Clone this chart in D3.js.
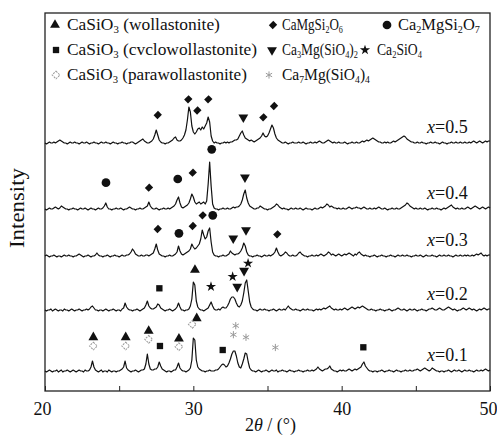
<!DOCTYPE html>
<html><head><meta charset="utf-8">
<script src="https://cdn.jsdelivr.net/npm/d3@7"></script>
<style>
body{margin:0;background:#fff}
svg{display:block}
text{font-family:"Liberation Serif","Times New Roman",serif;fill:#111}
</style>
</head><body>
<svg id="chart" width="497" height="436"></svg>
<script>
// XRD patterns of the CaO–MgO–SiO2 samples, 2θ = 20–50°, step 0.1°
const twoThetaStart = 20, twoThetaStep = 0.1;
const sampleNames = ["0.1", "0.2", "0.3", "0.4", "0.5"];
const stackOffsets = [15, 76, 130, 177, 243];

const intensityX01 = [
5,4,5,6,5,4,5,5,6,4, 5,6,4,5,5,6,5,4,5,6, 5,4,5,6,5,5,4,6,5,5, 6,9,15,9,6,5,4,5,6,4,
5,5,4,6,5,4,5,5,4,5, 5,6,7,9,15,8,6,5,4,5, 5,6,5,4,5,6,6,7,12,22, 12,7,6,6,7,7,9,14,10,7,
6,5,4,5,5,4,5,6,6,9, 13,8,6,5,5,4,5,6,8,16, 38,36,16,9,7,6,5,5,4,5, 5,6,5,5,5,6,6,7,9,11,
12,11,9,10,13,17,22,25,25,20, 13,9,8,12,17,23,22,14,8,6, 5,5,4,5,6,5,4,5,5,6, 5,4,5,6,5,5,6,4,5,5,
6,5,5,4,5,6,5,5,4,5, 5,6,5,5,4,5,5,6,5,5, 6,5,6,7,9,7,6,5,6,7, 7,8,10,7,6,5,5,4,5,6,
5,6,5,5,6,7,6,5,6,7, 6,7,8,9,12,14,10,8,6,5, 5,4,5,5,4,5,5,6,5,4, 5,5,6,5,5,4,5,6,5,5,
4,5,5,6,5,5,6,5,5,6, 6,7,6,5,6,7,8,7,6,5, 6,8,7,6,5,5,4,5,5,4, 5,5,6,5,4,5,6,5,5,6,
5,4,5,6,5,5,6,5,5,4, 5,6,5,5,6,5,6,7,6,5, 6];

const intensityX02 = [
5,4,5,5,6,4,5,6,5,4, 5,5,4,6,5,5,4,5,6,5, 4,5,5,6,5,4,5,5,6,5, 6,8,9,7,5,5,4,5,5,4,
5,6,5,4,5,5,6,5,4,5, 5,4,6,7,12,8,6,5,5,4, 5,5,6,5,4,5,6,7,10,14, 9,7,6,6,7,8,11,10,7,6,
5,4,5,5,6,5,4,5,6,8, 12,8,5,5,4,5,5,6,9,16, 33,30,14,8,6,5,5,4,5,6, 7,10,13,9,6,5,5,6,5,7,
8,7,7,9,12,16,18,18,16,12, 9,8,10,14,22,32,35,24,13,8, 6,5,5,4,5,6,5,5,6,5, 5,4,5,5,6,5,4,5,6,5,
5,6,5,7,9,7,6,5,5,6, 5,5,4,5,6,5,5,6,5,5, 5,4,5,6,5,6,5,6,7,6, 7,8,9,7,6,5,6,5,5,6,
5,6,7,6,5,6,7,8,7,6, 7,8,7,8,9,8,7,6,5,5, 6,5,5,4,5,5,6,5,5,4, 5,5,6,5,4,5,5,6,7,6,
5,5,6,5,4,5,6,5,5,6, 5,4,5,5,6,5,5,4,5,6, 6,7,6,5,5,6,7,6,5,5, 6,7,8,7,6,5,6,5,4,5,
5,6,7,6,5,6,7,6,5,6, 5,4,5,6,5,6,7,6,5,6, 6];

const intensityX03 = [
5,6,5,4,5,5,6,5,4,5, 5,4,5,6,5,5,6,5,5,4, 5,5,6,7,6,5,4,5,5,6, 5,4,5,5,6,8,6,5,5,4,
5,5,6,5,4,5,5,6,5,5, 4,5,6,5,5,6,6,7,9,12, 10,7,6,5,5,6,5,5,6,6, 5,6,7,8,12,17,11,7,6,5,
5,4,5,5,6,5,5,6,7,9, 15,10,7,6,7,8,9,10,12,17, 14,12,13,15,17,22,31,26,22,24, 30,33,19,9,6,5,5,4,5,5,
6,5,5,6,7,10,8,7,6,7, 7,8,10,13,18,15,9,6,5,5, 4,5,5,6,5,5,4,5,6,5, 5,6,5,6,7,9,13,9,6,5,
6,7,9,8,6,5,5,6,5,5, 6,8,9,7,6,5,5,4,5,5, 6,5,5,6,5,6,7,6,5,6, 7,9,8,6,7,6,5,6,7,6,
5,6,7,6,7,8,7,6,5,7, 6,8,9,7,6,5,6,5,5,4, 5,5,6,5,4,5,5,6,5,5, 4,5,5,6,5,5,4,5,6,5,
5,6,5,5,6,5,5,4,5,5, 6,5,5,6,5,4,5,6,5,5, 5,6,5,5,4,5,6,5,5,6, 5,5,6,5,5,4,5,6,5,5,
6,5,5,6,5,6,5,5,6,5, 6,7,6,7,8,6,5,6,5,6, 6];

const intensityX04 = [
5,4,5,6,5,5,6,7,6,5, 6,8,7,6,5,5,4,5,5,6, 5,5,4,5,6,5,5,6,5,4, 5,6,5,5,4,5,6,5,5,6,
8,11,7,5,5,4,5,5,6,5, 5,6,5,4,5,5,6,7,6,5, 5,4,5,5,6,5,5,6,7,8, 12,8,6,5,5,6,5,4,5,5,
6,5,5,6,5,6,7,8,10,14, 17,11,7,6,7,8,9,11,15,20, 17,12,10,11,12,10,11,12,10,13, 30,52,28,10,6,5,5,4,5,5,
6,5,5,6,5,5,6,7,6,7, 7,8,10,14,20,24,16,11,8,7, 6,5,5,6,6,8,7,6,5,5, 4,5,5,6,7,8,10,9,7,6,
5,6,5,5,4,5,6,5,5,6, 5,5,6,5,4,5,6,5,5,5, 4,5,6,5,5,6,7,6,7,8, 10,9,7,8,7,6,6,5,6,5,
5,6,5,5,6,7,6,5,6,6, 7,6,6,5,6,7,6,5,5,6, 5,5,6,5,6,7,6,5,5,6, 5,4,5,5,6,5,5,6,5,5,
6,7,8,9,11,10,8,7,6,5, 6,5,5,6,5,5,6,5,4,5, 5,6,5,5,6,5,5,4,5,6, 5,6,7,8,9,7,6,5,6,5,
5,6,5,5,6,7,6,5,6,7, 8,7,6,5,6,7,6,5,6,7, 6];

const intensityX05 = [
5,4,5,6,5,5,6,5,6,7, 8,7,6,5,5,4,5,6,5,5, 6,5,5,4,5,6,5,5,6,5, 4,5,5,6,5,5,4,5,6,5,
5,6,5,5,4,5,6,5,5,4, 5,5,6,5,5,4,5,5,6,6, 5,4,5,6,7,8,9,7,6,5, 5,6,7,9,13,18,13,8,6,5,
5,4,5,5,6,7,8,10,11,8, 7,7,8,10,13,18,28,41,36,22, 16,14,16,19,20,18,21,19,22,25, 31,26,12,7,5,6,5,5,4,5,
5,6,5,6,5,6,6,7,8,8, 9,12,15,17,13,10,9,8,7,8, 7,6,7,8,9,10,12,15,12,11, 12,15,19,23,20,14,10,8,7,6,
5,5,6,5,4,5,5,6,5,5, 5,6,5,5,6,5,4,5,5,6, 5,5,6,5,6,7,6,5,5,6, 7,8,7,6,5,6,5,5,6,5,
5,5,6,5,4,5,5,6,5,5, 6,5,5,6,7,6,7,8,7,8, 9,10,9,8,7,6,6,5,5,6, 5,6,5,5,6,7,6,7,8,9,
10,11,12,11,9,8,7,6,6,5, 5,6,5,5,6,5,5,4,5,5, 6,5,5,6,5,5,4,5,6,5, 5,4,5,5,6,5,5,6,5,5,
6,5,5,6,5,5,6,5,6,7, 6,5,6,7,6,5,6,7,6,7, 7];

const patterns = [intensityX01, intensityX02, intensityX03, intensityX04, intensityX05];

// Phase identification: [phase, 2θ, marker height above the pattern's offset]
const phaseMarksX01 = [
["wol",23.26,38.7],["para",23.26,30],["wol",25.44,38.7],["para",25.44,30],
["wol",26.99,45],["para",26.99,36.7],["cyc",27.75,30],["wol",29.03,37.3],["para",29.03,29.3],
["wol",30.23,57.7],["para",29.93,51.7],["cyc",31.98,26],["c7m",32.86,50.3],["c7m",32.7,41.3],
["c7m",33.55,38.7],["c7m",35.53,28.5],["cyc",41.46,28.7]];
const phaseMarksX02 = [
["cyc",27.71,26.7],["wol",30.11,45],["c2s",31.19,28.3],["c2s",32.65,38.3],["c3m",32.96,28.3],
["c3m",33.42,44.3],["c2s",33.69,51.7]];
const phaseMarksX03 = [
["diop",27.6,32],["aker",29.03,27.7],["diop",29.96,35],["diop",30.63,45.7],["aker",31.31,45.7],
["c3m",32.69,22.7],["c3m",33.55,31],["diop",35.66,26.7]];
const phaseMarksX04 = [
["aker",24.11,31.3],["diop",27.01,26.3],["aker",28.95,35],["diop",29.96,41.3],["aker",31.24,64.7],
["c3m",33.48,36.7]];
const phaseMarksX05 = [
["diop",27.6,33],["diop",29.66,48.7],["diop",30.27,37.5],["diop",31.01,48.7],["c3m",33.37,30.7],
["diop",34.72,30.7],["diop",35.44,42]];
const phaseMarks = [phaseMarksX01, phaseMarksX02, phaseMarksX03, phaseMarksX04, phaseMarksX05];

// Legend entries ("_n" = subscript)
const legendKeys = ["wol","diop","aker","cyc","c3m","c2s","para","c7m"];
const legendLabels = [
"CaSiO_3 (wollastonite)","CaMgSi_2O_6","Ca_2MgSi_2O_7",
"CaSiO_3 (cvclowollastonite)","Ca_3Mg(SiO_4)_2","Ca_2SiO_4",
"CaSiO_3 (parawollastonite)","Ca_7Mg(SiO_4)_4"];

const xTicks = [20,25,30,35,40,45,50];

const svg = d3.select("#chart");
const M = {left:45, right:490, top:13, bottom:391};
const x = d3.scaleLinear().domain([20,50]).range([M.left, M.right]);
const y = d3.scaleLinear().domain([0,378]).range([M.bottom, M.top]);

const aster = d3.symbolAsterisk || d3.symbolCross;
const symbolStyle = {
  wol:  {type:d3.symbolTriangle, size:42, rot:0,   fill:"#111", stroke:"none"},
  diop: {type:d3.symbolSquare,   size:30, rot:45,  fill:"#111", stroke:"none", sy:1.15},
  aker: {type:d3.symbolCircle,   size:60, rot:0,   fill:"#111", stroke:"none"},
  cyc:  {type:d3.symbolSquare,   size:40, rot:0,   fill:"#111", stroke:"none"},
  c3m:  {type:d3.symbolTriangle, size:42, rot:180, fill:"#111", stroke:"none"},
  c2s:  {type:d3.symbolStar,     size:32, rot:0,   fill:"#111", stroke:"none"},
  para: {type:d3.symbolSquare,   size:30, rot:45,  fill:"none", stroke:"#999", sw:1, dash:"2,1"},
  c7m:  {type:aster,             size:36, rot:0,   fill:"none", stroke:"#999", sw:1}
};

function drawSymbol(g, key, cx, cy) {
  const s = symbolStyle[key];
  g.append("path")
    .attr("d", d3.symbol(s.type, s.size)())
    .attr("transform", `translate(${cx},${cy}) rotate(${s.rot}) scale(1,${s.sy||1})`)
    .attr("fill", s.fill)
    .attr("stroke", s.stroke)
    .attr("stroke-width", s.sw||0)
    .attr("stroke-dasharray", s.dash||null);
}

function richText(t, str, size) {
  const parts = str.split(/(_\d)/).filter(p => p.length);
  let sub = false;
  parts.forEach(p => {
    if (p[0] === "_") {
      t.append("tspan").attr("dy", 3).attr("font-size", size*0.62).text(p.slice(1));
      sub = true;
    } else {
      t.append("tspan").attr("dy", sub ? -3 : 0).text(p);
      sub = false;
    }
  });
}

// squeeze/stretch a text horizontally to a given width, anchored at its start
function fitWidth(t, x0, w) {
  const bw = t.node().getBBox().width;
  if (bw > 0) t.attr("transform", `translate(${x0},0) scale(${w/bw},1) translate(${-x0},0)`);
}

// frame
svg.append("rect").attr("x",M.left).attr("y",M.top)
  .attr("width",M.right-M.left).attr("height",M.bottom-M.top)
  .attr("fill","none").attr("stroke","#222").attr("stroke-width",1.3);

// bottom axis, ticks inward
const xAxis = d3.axisBottom(x).tickValues(xTicks).tickSizeInner(-5).tickSizeOuter(0)
  .tickPadding(11).tickFormat(d => d % 10 === 0 ? d : "");
const gx = svg.append("g").attr("transform",`translate(0,${M.bottom})`).call(xAxis);
gx.select(".domain").remove();
gx.selectAll("line").attr("stroke","#222");
gx.selectAll("text").attr("font-size",18).attr("font-family","Liberation Serif").attr("fill","#111")
  .attr("dx", d => d === 50 ? -2 : (d === 20 ? -3 : 0));

// axis titles
const xt = svg.append("text").attr("x",(M.left+M.right)/2+3).attr("y",431)
  .attr("text-anchor","middle").attr("font-size",18);
xt.append("tspan").text("2");
xt.append("tspan").attr("font-style","italic").text("θ");
xt.append("tspan").text(" / (°)");

svg.append("text").attr("transform","translate(24,208) rotate(-90)")
  .attr("text-anchor","middle").attr("font-size",20)
  .attr("textLength",80).attr("lengthAdjust","spacingAndGlyphs").text("Intensity");

// patterns
const line = d3.line()
  .x((d,i) => x(twoThetaStart + i*twoThetaStep))
  .y(d => d);
patterns.forEach((arr, k) => {
  const pts = arr.map(v => y(v + stackOffsets[k]));
  svg.append("path").attr("d", line(pts))
    .attr("fill","none").attr("stroke","#111").attr("stroke-width",1.2)
    .attr("stroke-linejoin","round");
  const lab = svg.append("text").attr("x", 427).attr("y", y(stackOffsets[k] + 15))
    .attr("font-size", 18);
  lab.append("tspan").attr("font-style","italic").text("x");
  lab.append("tspan").text("=" + sampleNames[k]);
  const g = svg.append("g");
  phaseMarks[k].forEach(m => drawSymbol(g, m[0], x(m[1]), y(stackOffsets[k] + m[2])));
});

// legend (3 columns x 3 rows)
const legSym = [[55,25],[273,25],[387,25],[56,50],[272,50],[365,50],[56,75],[269,75]];
const legText = [[67,153],[282,61],[398,82],[67,190],[282,76],[377,45],[67,180],[282,88]];
legendKeys.forEach((key, i) => {
  drawSymbol(svg, key, legSym[i][0], legSym[i][1]);
  const t = svg.append("text").attr("x", legText[i][0]).attr("y", legSym[i][1] + 5)
    .attr("font-size", 16);
  richText(t, legendLabels[i], 16);
  fitWidth(t, legText[i][0], legText[i][1]);
});
</script>
</body></html>
